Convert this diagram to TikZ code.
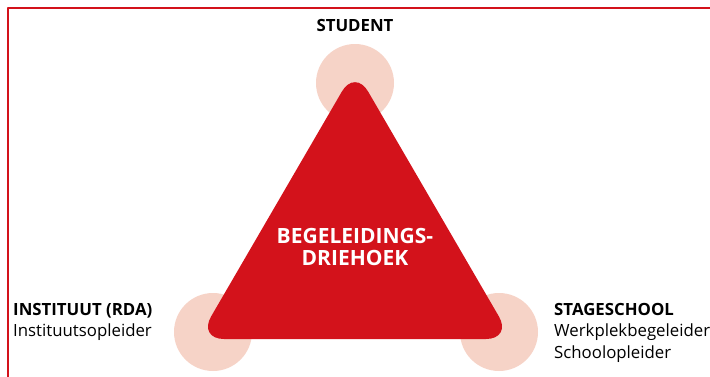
\documentclass[tikz,border=0pt]{standalone}
\usepackage{fontspec}
\setmainfont{Open Sans}
\definecolor{rdarood}{HTML}{D3121B}
\definecolor{rdaroze}{HTML}{F6D3C7}
\begin{document}
\begin{tikzpicture}[x=1pt,y=-1pt,line join=round,font=\fontsize{16.8}{21.5}\selectfont]
\useasboundingbox (0,0) rectangle (710,376);
\clip (0,0) rectangle (710,376);
%Kader
\draw[rdarood,line width=1.6pt] (8,8) rectangle (740,400);
%Cirkels op de hoeken
\foreach \p in {(355,83),(213,332),(499,332)}
\fill[rdaroze] \p circle (39pt);
%Driehoek
\fill[rdarood,rounded corners=26pt] (355,69)--(512,339)--(198,339)--cycle;
\node[text=white,font=\bfseries\fontsize{21}{22}\selectfont,align=center] (driehoek) at (355,247) {BEGELEIDINGS-\\DRIEHOEK};
%Labels
\node[font=\fontsize{16.8}{21.5}\selectfont\bfseries] (student) at (355,25) {STUDENT};
\node[anchor=north west,inner sep=0pt,align=left] (instituut) at (13,303) {\textbf{INSTITUUT (RDA)}\\Instituutsopleider};
\node[anchor=north west,inner sep=0pt,align=left] (stageschool) at (554,303) {\textbf{STAGESCHOOL}\\Werkplekbegeleider\\Schoolopleider};
\end{tikzpicture}
\end{document}
